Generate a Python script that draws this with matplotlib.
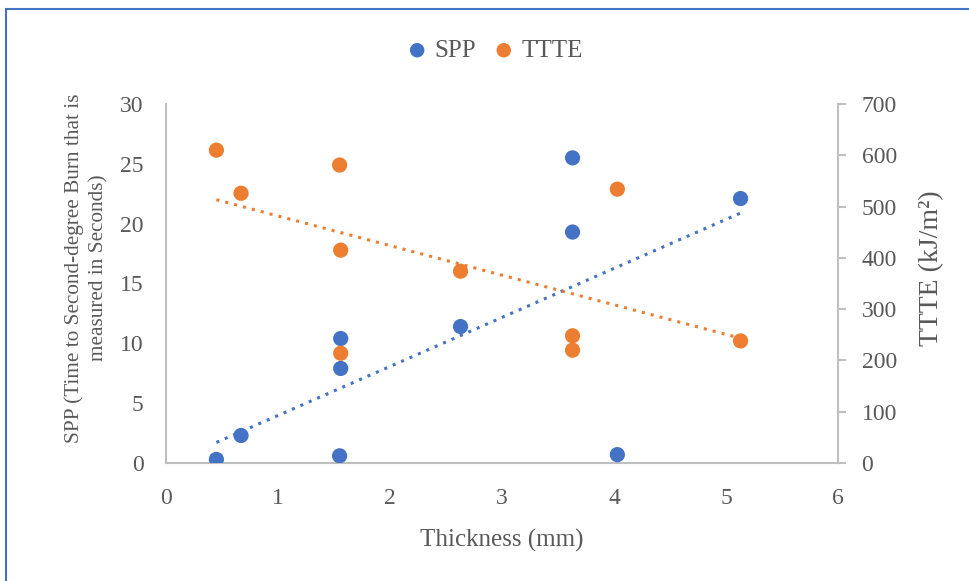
import numpy as np
import matplotlib
matplotlib.use("Agg")
import matplotlib.pyplot as plt
from matplotlib.patches import Rectangle

# data
spp_x = [0.45, 0.67, 1.55, 1.56, 1.56, 2.63, 3.63, 3.63, 4.03, 5.13]
spp = [0.3, 2.3, 0.6, 10.4, 7.9, 11.4, 25.5, 19.3, 0.7, 22.1]
ttte_x = [0.45, 0.67, 1.55, 1.56, 1.56, 2.63, 3.63, 3.63, 4.03, 5.13]
ttte = [610, 526, 581, 415, 214, 374, 248, 220, 534, 238]

blue = "#4472C4"
orange = "#ED7D31"
grey = "#BFBFBF"
txt = "#595959"

plt.rcParams['font.family'] = ['Liberation Serif', 'DejaVu Serif']

fig = plt.figure(figsize=(9.69, 5.81), dpi=100)
ax = fig.add_axes([0.1713, 0.2031, 0.6935, 0.6179])
ax2 = ax.twinx()

ax.scatter(spp_x, spp, s=120, color=blue, zorder=3, label="SPP", edgecolors='none')
ax2.scatter(ttte_x, ttte, s=120, color=orange, zorder=3, label="TTTE", edgecolors='none')

# linear trendlines
xs = np.array([min(spp_x), max(spp_x)])
p = np.polyfit(spp_x, spp, 1)
ax.plot(xs, np.polyval(p, xs), color=blue, lw=2.2, ls=(0, (1, 2)), zorder=2)
xs2 = np.array([min(ttte_x), max(ttte_x)])
p2 = np.polyfit(ttte_x, ttte, 1)
ax2.plot(xs2, np.polyval(p2, xs2), color=orange, lw=2.2, ls=(0, (1, 2)), zorder=2)

ax.set_xlim(0, 6)
ax.set_ylim(0, 30)
ax2.set_ylim(0, 700)
ax.set_xticks(range(0, 7))
ax.set_yticks(range(0, 31, 5))
ax2.set_yticks(range(0, 701, 100))

for a in (ax, ax2):
    a.spines['top'].set_visible(False)
    for s in ('left', 'right', 'bottom'):
        a.spines[s].set_color(grey)
        a.spines[s].set_linewidth(1.5)
ax.spines['right'].set_visible(False)
ax2.spines['left'].set_visible(False)
ax2.spines['bottom'].set_visible(False)

ax.tick_params(axis='y', length=0, labelsize=17, labelcolor=txt, pad=16)
ax.tick_params(axis='x', length=0, labelsize=17, labelcolor=txt, pad=18)
ax2.tick_params(axis='y', length=6, color=grey, width=1.5, labelsize=17, labelcolor=txt, pad=11)

ax.set_xlabel("Thickness (mm)", fontsize=18, color=txt, labelpad=14)
ax.set_ylabel("SPP (Time to Second-degree Burn that is\nmeasured in Seconds)", fontsize=15.3,
              color=txt, linespacing=1.35)
ax.yaxis.set_label_coords(-0.086, 0.543)
ax2.set_ylabel("TTTE (kJ/m²)", fontsize=20, color=txt)
ax2.yaxis.set_label_coords(1.121, 0.543)

h1, l1 = ax.get_legend_handles_labels()
h2, l2 = ax2.get_legend_handles_labels()
fig.legend(h1 + h2, l1 + l2, loc='center', bbox_to_anchor=(0.503, 0.913), ncol=2,
           frameon=False, fontsize=18, labelcolor=txt, handletextpad=-0.3,
           columnspacing=0.1, markerscale=0.95)

# outer frame
fig.patches.append(Rectangle((6 / 969, -0.05), 1.2, 1 - 9 / 581 + 0.05,
                             transform=fig.transFigure, fill=False,
                             edgecolor="#4472C4", lw=1.5))

fig.savefig("out.png", dpi=100)
